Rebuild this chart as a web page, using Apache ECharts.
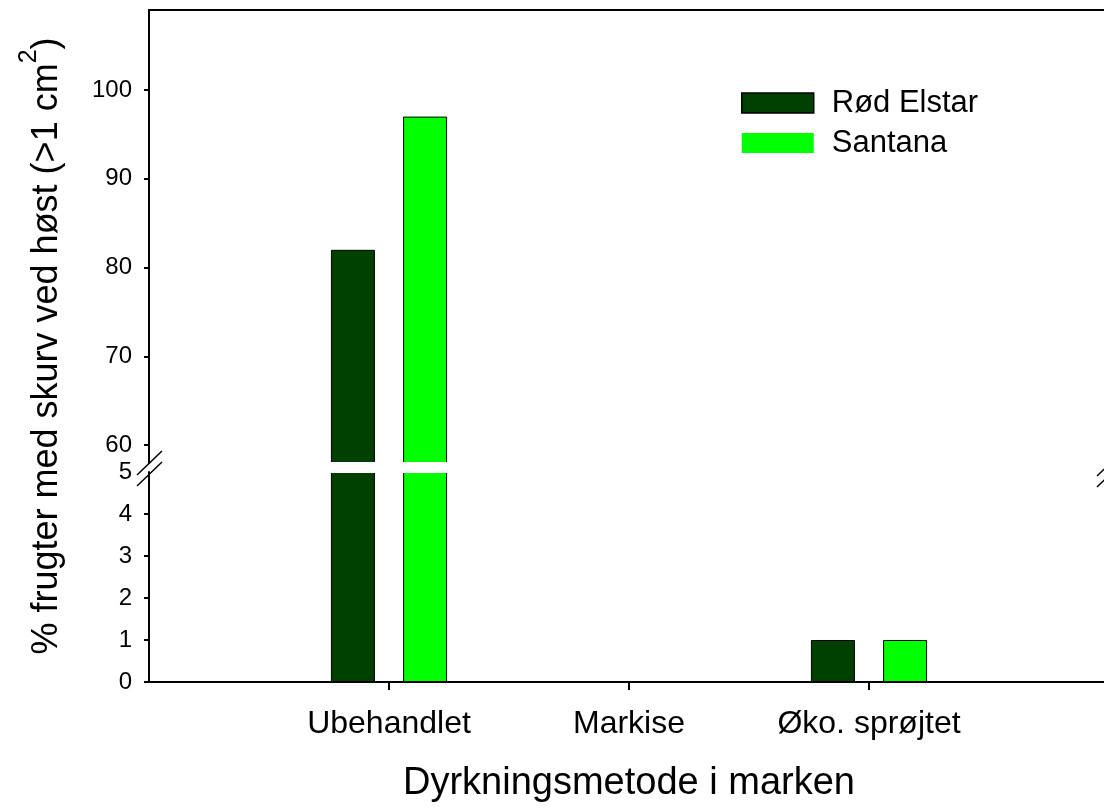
<!DOCTYPE html>
<html>
<head>
<meta charset="utf-8">
<script src="https://cdn.jsdelivr.net/npm/echarts@6/dist/echarts.min.js"></script>
<style>
html,body{margin:0;padding:0;background:#fff;}
#chart{width:1104px;height:808px;}
</style>
</head>
<body>
<div id="chart"></div>
<script>
// ---- data ----
const categories = ['Ubehandlet', 'Markise', 'Øko. sprøjtet'];
const seriesNames = ['Rød Elstar', 'Santana'];
const rodElstar = [82, 0, 1];
const santana = [97, 0, 1];
const upperTicks = [60, 70, 80, 90, 100];
const lowerTicks = [0, 1, 2, 3, 4, 5];
const upperRange = [58, 109];
const lowerRange = [0, 5];

const colors = ['#004000', '#00ff00'];
const FONT = '"Liberation Sans", Arial, sans-serif';

const xCats = [''].concat(categories, ['']);
function pad(arr) { return ['-'].concat(arr, ['-']); }
function upperData(arr) { return pad(arr.map(v => v > upperRange[0] ? v : '-')); }

const chart = echarts.init(document.getElementById('chart'));

const axisLineStyle = { color: '#000', width: 2 };

function xAxisBase(gridIndex, position, showLabels) {
  return {
    type: 'category', gridIndex, position, data: xCats, boundaryGap: false,
    axisLine: { show: true, onZero: false, lineStyle: axisLineStyle },
    axisTick: { show: showLabels, length: 8, interval: (i) => i > 0 && i < xCats.length - 1, lineStyle: { color: '#000', width: 2 } },
    axisLabel: { show: showLabels, interval: 0, color: '#000', fontFamily: FONT, fontSize: 32, margin: 26 },
    splitLine: { show: false }
  };
}

const option = {
  animation: false,
  backgroundColor: '#fff',
  grid: [
    { left: 149, right: -5, top: 10, bottom: 808 - 463, outerBoundsMode: 'none', containLabel: false },
    { left: 149, right: -5, top: 472, bottom: 808 - 682, outerBoundsMode: 'none', containLabel: false }
  ],
  xAxis: [
    xAxisBase(0, 'top', false),
    Object.assign(xAxisBase(1, 'bottom', true), {
      name: 'Dyrkningsmetode i marken', nameLocation: 'middle', nameGap: 83,
      nameTextStyle: { color: '#000', fontFamily: FONT, fontSize: 38 }
    })
  ],
  yAxis: [
    {
      type: 'value', gridIndex: 0, min: upperRange[0], max: upperRange[1],
      axisLine: { show: true, onZero: false, lineStyle: axisLineStyle },
      axisTick: { show: true, length: 5, customValues: upperTicks, lineStyle: { color: '#000', width: 2 } },
      axisLabel: { customValues: upperTicks, color: '#000', fontFamily: FONT, fontSize: 24, margin: 17 },
      splitLine: { show: false }
    },
    {
      type: 'value', gridIndex: 1, min: lowerRange[0], max: lowerRange[1], interval: 1,
      axisLine: { show: true, onZero: false, lineStyle: axisLineStyle },
      axisTick: { show: true, length: 5, customValues: lowerTicks.slice(0, -1), lineStyle: { color: '#000', width: 2 } },
      axisLabel: { customValues: lowerTicks, color: '#000', fontFamily: FONT, fontSize: 24, margin: 17 },
      splitLine: { show: false }
    }
  ],
  legend: {
    orient: 'vertical', left: 736, top: 82, itemWidth: 72, itemHeight: 20, itemGap: 8,
    icon: 'rect',
    textStyle: { color: '#000', fontFamily: FONT, fontSize: 31, lineHeight: 32, padding: [0, 0, 0, 13] },
    data: [
      { name: seriesNames[0], itemStyle: { color: colors[0], borderColor: '#000', borderWidth: 1.5 } },
      { name: seriesNames[1], itemStyle: { color: colors[1], borderWidth: 0 } }
    ]
  },
  series: [
    { name: seriesNames[0], type: 'bar', xAxisIndex: 0, yAxisIndex: 0, data: upperData(rodElstar), barWidth: 44, barGap: '64%',
      itemStyle: { color: colors[0], borderColor: '#000', borderWidth: 1 }, clip: true },
    { name: seriesNames[1], type: 'bar', xAxisIndex: 0, yAxisIndex: 0, data: upperData(santana), barWidth: 44, barGap: '64%',
      itemStyle: { color: colors[1], borderColor: '#000', borderWidth: 1 }, clip: true },
    { name: seriesNames[0], type: 'bar', xAxisIndex: 1, yAxisIndex: 1, data: pad(rodElstar), barWidth: 44, barGap: '64%',
      itemStyle: { color: colors[0], borderColor: '#000', borderWidth: 1 }, clip: true },
    { name: seriesNames[1], type: 'bar', xAxisIndex: 1, yAxisIndex: 1, data: pad(santana), barWidth: 44, barGap: '64%',
      itemStyle: { color: colors[1], borderColor: '#000', borderWidth: 1 }, clip: true }
  ],
  graphic: [
    // gap between the two axis segments
    { type: 'rect', z: 100, shape: { x: 151, y: 462, width: 960, height: 11 }, style: { fill: '#fff' } },
    // break marks
    { type: 'line', z: 101, shape: { x1: 137, y1: 475, x2: 162, y2: 451 }, style: { stroke: '#000', lineWidth: 1.5 } },
    { type: 'line', z: 101, shape: { x1: 137, y1: 486, x2: 162, y2: 462 }, style: { stroke: '#000', lineWidth: 1.5 } },
    { type: 'line', z: 101, shape: { x1: 1097, y1: 476, x2: 1122, y2: 452 }, style: { stroke: '#000', lineWidth: 1.5 } },
    { type: 'line', z: 101, shape: { x1: 1097, y1: 487, x2: 1122, y2: 463 }, style: { stroke: '#000', lineWidth: 1.5 } },
    // y-axis title
    {
      type: 'text', z: 101, x: 41, y: 346, rotation: Math.PI / 2,
      style: {
        text: '{a|% frugter med skurv ved høst (>1 cm}{s|2}{a|)}',
        align: 'center', verticalAlign: 'middle',
        fill: '#000',
        rich: {
          a: { fontFamily: FONT, fontSize: 36, lineHeight: 48, verticalAlign: 'bottom', fill: '#000' },
          s: { fontFamily: FONT, fontSize: 25, lineHeight: 48, verticalAlign: 'top', fill: '#000' }
        }
      }
    }
  ]
};
chart.setOption(option);
</script>
</body>
</html>
